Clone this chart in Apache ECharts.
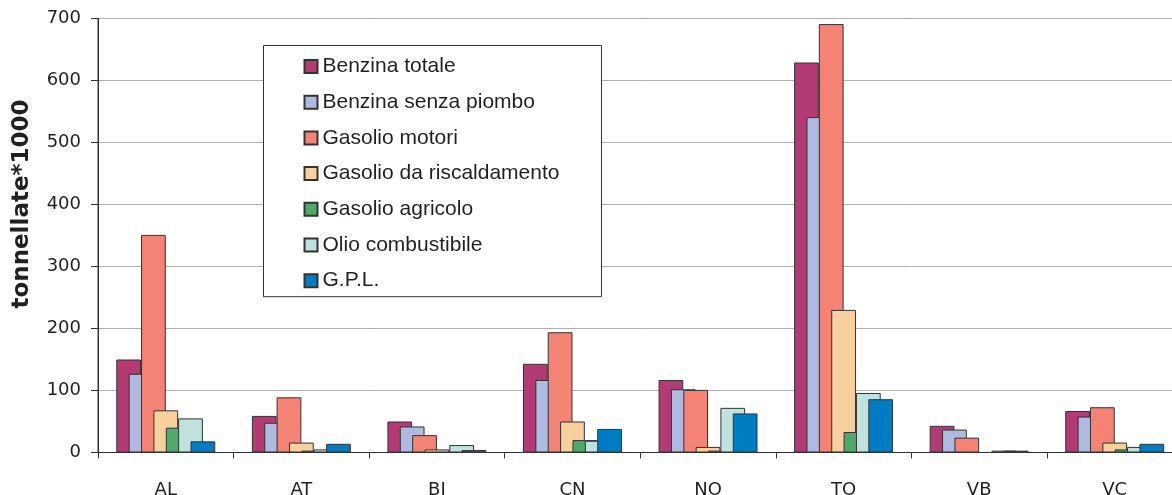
<!DOCTYPE html>
<html>
<head>
<meta charset="utf-8">
<script src="https://cdn.jsdelivr.net/npm/echarts@6/dist/echarts.min.js"></script>
<style>
  html, body { margin: 0; padding: 0; background: #ffffff; overflow: hidden; }
  /* plot area runs slightly past the right edge of the page */
  #chart { width: 1183px; height: 495px; }
</style>
</head>
<body>
<div id="chart"></div>
<script>
// Consumi di prodotti petroliferi per provincia (tonnellate * 1000)
const categories = ['AL', 'AT', 'BI', 'CN', 'NO', 'TO', 'VB', 'VC'];

const benzinaTotale        = [150, 59, 50, 143, 117, 629, 43, 67];
const benzinaSenzaPiombo   = [127, 48, 42, 117, 102, 541, 37, 58];
const gasolioMotori        = [351, 89, 28, 194, 101, 691, 24, 73];
const gasolioRiscaldamento = [68, 16, 5, 50, 9, 230, 0, 16];
const gasolioAgricolo      = [40, 3, 0, 20, 3, 33, 0, 5];
const olioCombustibile     = [55, 5, 12, 19, 72, 96, 3, 9];
const gpl                  = [18, 14, 4, 38, 63, 86, 3, 14];

const seriesNames = [
  'Benzina totale',
  'Benzina senza piombo',
  'Gasolio motori',
  'Gasolio da riscaldamento',
  'Gasolio agricolo',
  'Olio combustibile',
  'G.P.L.'
];
const seriesData = [
  benzinaTotale, benzinaSenzaPiombo, gasolioMotori, gasolioRiscaldamento,
  gasolioAgricolo, olioCombustibile, gpl
];
const seriesColors = ['#B43A73', '#AEBADF', '#F48275', '#F8D09E', '#4FA96B', '#C1E1DF', '#007CC3'];

const yTicks = { min: 0, max: 700, interval: 100 };

const textColor = '#231f20';
const axisFont = 'DejaVu Sans';

const chart = echarts.init(document.getElementById('chart'), null, { renderer: 'canvas' });

chart.setOption({
  backgroundColor: '#ffffff',
  animation: false,
  grid: {
    left: 98,
    top: 18.5,
    right: 0.5,
    bottom: 42.5,
    containLabel: false,
    outerBoundsMode: 'none',
    show: true,
    borderColor: '#333333',
    borderWidth: 1,
    backgroundColor: 'transparent'
  },
  legend: {
    orient: 'vertical',
    left: 263.5,
    top: 45.5,
    padding: [10.5, 42, 5.5, 40],
    itemWidth: 13,
    itemHeight: 13,
    itemGap: 14.7,
    icon: 'rect',
    borderColor: '#333333',
    borderWidth: 1,
    backgroundColor: '#ffffff',
    selectedMode: false,
    textStyle: {
      fontFamily: 'Liberation Sans',
      fontSize: 21,
      lineHeight: 21,
      color: textColor
    },
    data: seriesNames
  },
  xAxis: {
    type: 'category',
    data: categories,
    boundaryGap: true,
    axisLine: { lineStyle: { color: '#333333', width: 1 } },
    axisTick: { show: true, length: 6, lineStyle: { color: '#333333' } },
    axisLabel: {
      margin: 29,
      fontFamily: axisFont,
      fontSize: 18,
      color: textColor
    },
    splitLine: { show: false }
  },
  yAxis: {
    type: 'value',
    min: yTicks.min,
    max: yTicks.max,
    interval: yTicks.interval,
    axisLine: { show: true, lineStyle: { color: '#333333', width: 1 } },
    axisTick: { show: true, length: 7, lineStyle: { color: '#333333' } },
    axisLabel: {
      margin: 17,
      fontFamily: axisFont,
      fontSize: 18,
      color: textColor
    },
    splitLine: { show: true, lineStyle: { color: '#b0b0b0', width: 1 } }
  },
  graphic: [{
    type: 'text',
    x: 22,
    y: 204,
    rotation: Math.PI / 2,
    style: {
      text: 'tonnellate*1000',
      fontFamily: 'DejaVu Sans',
      fontWeight: 'bold',
      fontSize: 23,
      fill: textColor,
      align: 'center',
      verticalAlign: 'middle'
    }
  }],
  series: seriesNames.map((name, i) => ({
    name: name,
    type: 'bar',
    data: seriesData[i],
    barGap: '-50%',
    barCategoryGap: '27%',
    itemStyle: {
      color: seriesColors[i],
      borderColor: '#333333',
      borderWidth: 1
    },
    emphasis: { disabled: true }
  }))
});
</script>
</body>
</html>
